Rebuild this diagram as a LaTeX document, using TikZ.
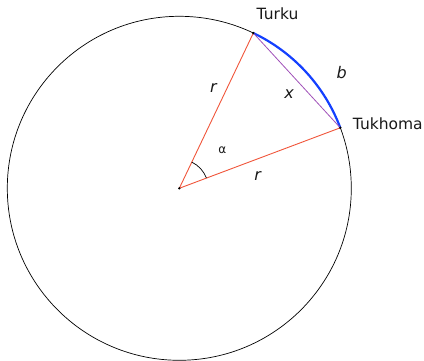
\documentclass[tikz,border=0pt]{standalone}
\usepackage{fontspec}
\setmainfont{DejaVu Sans}
\usepackage{tikz}
\usetikzlibrary{positioning,calc}
\definecolor{arcRed}{HTML}{F0553A}
\definecolor{arcPurple}{HTML}{A050B8}
\definecolor{arcBlue}{HTML}{1440FF}
\tikzset{
  globeLine/.style={draw=black, line width=0.7pt},
  radiusLine/.style={draw=arcRed, line width=0.9pt},
  chordLine/.style={draw=arcPurple, line width=0.8pt},
  bowLine/.style={draw=arcBlue, line width=2.2pt},
  cityDot/.style={circle, fill=black, inner sep=0pt, minimum size=2.6pt},
  cityLabel/.style={font=\fontsize{15.5}{18}\selectfont, text=black!90},
  varLabel/.style={font=\fontsize{16}{18}\selectfont\itshape, text=black!90},
  angLabel/.style={font=\fontsize{12}{14}\selectfont, text=black!90}
}
\begin{document}
\begin{tikzpicture}[x=1pt, y=1pt]
    \useasboundingbox (0,0) rectangle (424,361);

    \coordinate (centre) at (179.3,172.7);
    \coordinate (turku) at ([shift={(64.5:172)}]centre);
    \coordinate (tukhoma) at ([shift={(20.6:172)}]centre);

    \draw[globeLine] (centre) circle[radius=172];
    \draw[bowLine] (tukhoma) arc[start angle=20.6, end angle=64.5, radius=172];
    \draw[chordLine] (turku) -- (tukhoma);
    \draw[radiusLine] (centre) -- (turku);
    \draw[radiusLine] (centre) -- (tukhoma);
    \draw[line width=0.7pt] ([shift={(20.6:29)}]centre)
      arc[start angle=20.6, end angle=64.5, radius=29];

    \node[cityDot] (o) at (centre) {};
    \node[cityDot] (t) at (turku) {};
    \node[cityDot] (k) at (tukhoma) {};

    \node[cityLabel] (turkuName) at (277.5,347) {Turku};
    \node[cityLabel, anchor=west, inner sep=0pt] (tukhomaName) at (352.7,237) {Tukhoma};
    \node[varLabel] (rUp) at (213.3,272.7) {r};
    \node[varLabel] (rDown) at (257.7,185.3) {r};
    \node[varLabel] (xChord) at (289,267) {x};
    \node[varLabel] (bArc) at (341.7,288.3) {b};
    \node[angLabel] (alpha) at (222.3,210.3) {α};
  \end{tikzpicture}
\end{document}
